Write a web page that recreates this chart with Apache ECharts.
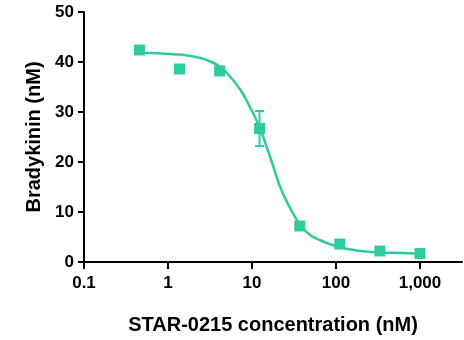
<!DOCTYPE html>
<html>
<head>
<meta charset="utf-8">
<script src="https://cdn.jsdelivr.net/npm/echarts@6/dist/echarts.min.js"></script>
<style>
  html, body { margin: 0; padding: 0; background: #fff; }
  #chart { width: 464px; height: 340px; }
</style>
</head>
<body>
<div id="chart"></div>
<script>
// measured points (3-fold dilutions)
const conc = [0.457, 1.37, 4.12, 12.3, 37.0, 111, 333, 1000];
const bradykinin = [42.4, 38.6, 38.2, 26.7, 7.2, 3.6, 2.2, 1.7];
const errLow = [42.4, 38.6, 37.6, 23.2, 7.2, 2.9, 1.7, 1.7];
const errHigh = [42.4, 38.6, 38.8, 30.2, 7.2, 4.3, 2.6, 1.7];

// fitted curve
const curveX = [0.454, 0.614, 0.808, 1.06, 1.40, 1.84, 2.43, 3.19, 4.21, 5.54, 7.29, 9.60, 12.6, 16.6, 21.9, 28.8, 37.9, 50.0, 65.8, 86.6, 114, 150, 198, 342, 593, 1000];
const curveY = [41.8, 41.8, 41.7, 41.6, 41.5, 41.2, 40.8, 40.1, 39.0, 37.0, 34.4, 30.8, 26.5, 20.8, 14.8, 10.6, 7.3, 5.3, 4.3, 3.5, 2.9, 2.5, 2.2, 1.9, 1.8, 1.7];

const xTicks = [0.1, 1, 10, 100, 1000];

const color = "#2ECC9A";
const font = "Liberation Sans, Arial, sans-serif";

let mychart = echarts.init(document.getElementById("chart"));
mychart.setOption({
  animation: false,
  grid: { left: 84, right: 2, top: 12, bottom: 77 },
  xAxis: {
    type: "log",
    logBase: 10,
    min: 0.1,
    max: 3162.28,
    name: "STAR-0215 concentration (nM)",
    nameLocation: "middle",
    nameGap: 53,
    nameTextStyle: { fontFamily: font, fontWeight: "bold", fontSize: 20, color: "#000" },
    axisLine: { lineStyle: { color: "#000", width: 2 } },
    axisTick: { show: true, length: 7, lineStyle: { color: "#000", width: 2 }, customValues: xTicks },
    axisLabel: {
      customValues: xTicks,
      margin: 13,
      fontFamily: font,
      fontWeight: "bold",
      fontSize: 17,
      color: "#000",
      formatter: function (v) {
        return v >= 1000 ? v.toLocaleString("en-US") : String(v);
      },
    },
    splitLine: { show: false },
    minorTick: { show: false },
  },
  yAxis: {
    type: "value",
    min: 0,
    max: 50,
    interval: 10,
    name: "Bradykinin (nM)",
    nameLocation: "middle",
    nameGap: 40,
    nameTextStyle: { fontFamily: font, fontWeight: "bold", fontSize: 20, color: "#000" },
    axisLine: { show: true, lineStyle: { color: "#000", width: 2 } },
    axisTick: { show: true, length: 6, lineStyle: { color: "#000", width: 2 } },
    axisLabel: { margin: 10, fontFamily: font, fontWeight: "bold", fontSize: 17, color: "#000" },
    splitLine: { show: false },
  },
  series: [
    {
      type: "line",
      data: curveX.map((x, i) => [x, curveY[i]]),
      smooth: 0.3,
      showSymbol: false,
      lineStyle: { color: color, width: 2.5 },
      z: 2,
    },
    {
      type: "custom",
      data: conc.map((x, i) => [x, errLow[i], errHigh[i]]),
      renderItem: function (params, api) {
        const lo = api.coord([api.value(0), api.value(1)]);
        const hi = api.coord([api.value(0), api.value(2)]);
        const w = 4.5;
        const st = { stroke: color, lineWidth: 2 };
        return {
          type: "group",
          children: [
            { type: "line", shape: { x1: lo[0], y1: lo[1], x2: hi[0], y2: hi[1] }, style: st },
            { type: "line", shape: { x1: hi[0] - w, y1: hi[1], x2: hi[0] + w, y2: hi[1] }, style: st },
            { type: "line", shape: { x1: lo[0] - w, y1: lo[1], x2: lo[0] + w, y2: lo[1] }, style: st },
          ],
        };
      },
      z: 3,
    },
    {
      type: "scatter",
      data: conc.map((x, i) => [x, bradykinin[i]]),
      symbol: "rect",
      symbolSize: 11,
      itemStyle: { color: color, opacity: 1 },
      z: 4,
    },
  ],
});
</script>
</body>
</html>
